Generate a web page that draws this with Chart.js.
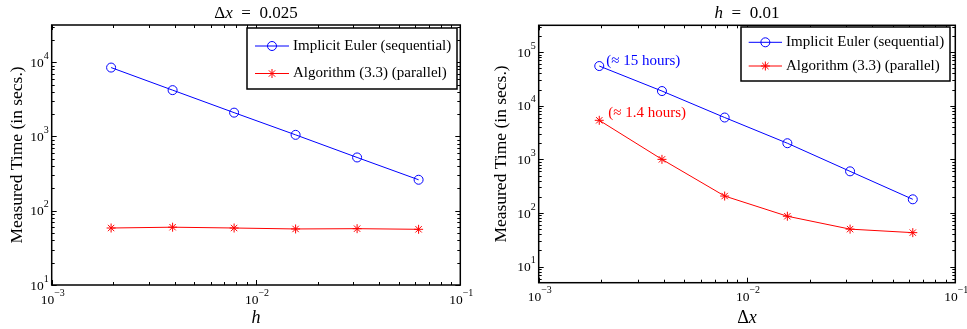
<!DOCTYPE html>
<html><head><meta charset="utf-8">
<script src="https://cdn.jsdelivr.net/npm/chart.js@4"></script>
<style>
html,body{margin:0;padding:0;background:#fff;width:967px;height:329px;overflow:hidden}
canvas{position:absolute;top:0}
</style></head><body>
<canvas id="c1" width="484" height="329" style="left:0"></canvas>
<canvas id="c2" width="483" height="329" style="left:484px"></canvas>
<script>
// ---- data ----
const stepSizesH = [0.001953125, 0.00390625, 0.0078125, 0.015625, 0.03125, 0.0625];
const leftImplicitEuler = [8450, 4200, 2090, 1050, 521, 261];
const leftAlgorithm = [58.5, 60, 58.5, 56.8, 57.3, 56.2];
const meshSizesDx = [0.001953125, 0.00390625, 0.0078125, 0.015625, 0.03125, 0.0625];
const rightImplicitEuler = [55000, 18800, 6030, 2000, 598, 180];
const rightAlgorithm = [5350, 1000, 207, 87, 50, 43];
const xMajorExponents = [-3, -2, -1];
const leftYMajorExponents = [1, 2, 3, 4];
const rightYMajorExponents = [1, 2, 3, 4, 5];
const legendLabels = ['Implicit Euler (sequential)', 'Algorithm (3.3) (parallel)'];
const annotationTexts = ['(\u2248 15 hours)', '(\u2248 1.4 hours)'];

const SERIF = '"Liberation Serif", "Times New Roman", serif';
const BLUE = '#0000ff', RED = '#ff0000';

function drawParts(ctx, parts, x, y, align) {
  let total = 0;
  parts.forEach(p => { ctx.font = p.font; p.w = ctx.measureText(p.t).width; total += p.w; });
  let cx = align === 'center' ? x - total / 2 : (align === 'right' ? x - total : x);
  ctx.textBaseline = 'middle'; ctx.textAlign = 'left';
  parts.forEach(p => { ctx.font = p.font; ctx.fillText(p.t, cx, y + (p.dy || 0)); cx += p.w; });
}
function powParts(e) {
  return [{t: '10', font: '13.5px ' + SERIF}, {t: (e < 0 ? '\u2212' : '') + Math.abs(e), font: '10px ' + SERIF, dy: -7}];
}

const axesPlugin = {
  id: 'matlabAxes',
  afterDraw(chart) {
    const o = chart.options.plugins.matlabAxes;
    const ctx = chart.ctx, a = chart.chartArea, xs = chart.scales.x, ys = chart.scales.y;
    ctx.save();
    ctx.strokeStyle = '#000'; ctx.lineWidth = 1;
    const tickSet = (scale) => {
      const out = [];
      const lo = Math.floor(Math.log10(scale.min)), hi = Math.ceil(Math.log10(scale.max));
      for (let d = lo; d <= hi; d++) for (let m = 1; m <= 9; m++) {
        const v = m * Math.pow(10, d);
        if (v >= scale.min * 0.9999 && v <= scale.max * 1.0001) out.push({v, major: m === 1});
      }
      return out;
    };
    ctx.beginPath();
    tickSet(xs).forEach(t => {
      const px = Math.round(xs.getPixelForValue(t.v)) + 0.5, L = t.major ? 5 : 3;
      ctx.moveTo(px, a.bottom); ctx.lineTo(px, a.bottom - L);
      ctx.moveTo(px, a.top); ctx.lineTo(px, a.top + L);
    });
    tickSet(ys).forEach(t => {
      const py = Math.round(ys.getPixelForValue(t.v)) + 0.5, L = t.major ? 5 : 3;
      ctx.moveTo(a.left, py); ctx.lineTo(a.left + L, py);
      ctx.moveTo(a.right, py); ctx.lineTo(a.right - L, py);
    });
    ctx.stroke();
    ctx.lineWidth = 1.5;
    ctx.strokeRect(a.left, a.top, a.right - a.left, a.bottom - a.top);
    ctx.fillStyle = '#000';
    o.xExps.forEach(e => {
      const px = xs.getPixelForValue(Math.pow(10, e));
      drawParts(ctx, powParts(e), px + 1, a.bottom + 15, 'center');
    });
    o.yExps.forEach(e => {
      const py = ys.getPixelForValue(Math.pow(10, e));
      drawParts(ctx, powParts(e), a.left - 3, py + 1, 'right');
    });
    drawParts(ctx, o.title, (a.left + a.right) / 2, 14, 'center');
    drawParts(ctx, o.xLabel, (a.left + a.right) / 2, 318, 'center');
    ctx.save();
    ctx.translate(17, (a.top + a.bottom) / 2);
    ctx.rotate(-Math.PI / 2);
    drawParts(ctx, [{t: 'Measured Time (in secs.)', font: '17.5px ' + SERIF}], 0, 0, 'center');
    ctx.restore();
    const L = o.legend;
    ctx.fillStyle = '#fff'; ctx.strokeStyle = '#000'; ctx.lineWidth = 1.5;
    ctx.fillRect(L.x0, L.y0, L.x1 - L.x0, L.y1 - L.y0);
    ctx.strokeRect(L.x0, L.y0, L.x1 - L.x0, L.y1 - L.y0);
    chart.data.datasets.forEach((ds, i) => {
      const y = L.rows[i];
      ctx.strokeStyle = ds.borderColor; ctx.lineWidth = 1;
      ctx.beginPath(); ctx.moveTo(L.lx0, y); ctx.lineTo(L.lx1, y); ctx.stroke();
      ctx.fillStyle = 'rgba(0,0,0,0)';
      Chart.helpers.drawPoint(ctx, {pointStyle: ds.pointStyle, radius: ds.pointRadius, rotation: 0, borderWidth: 1}, (L.lx0 + L.lx1) / 2, y);
      ctx.fillStyle = '#000';
      drawParts(ctx, [{t: ds.label, font: '15px ' + SERIF}], L.tx, y, 'left');
    });
    if (o.annotate) {
      chart.data.datasets.forEach((ds, i) => {
        const p = ds.data[0];
        const px = xs.getPixelForValue(p.x), py = ys.getPixelForValue(p.y);
        ctx.fillStyle = ds.borderColor;
        drawParts(ctx, [{t: annotationTexts[i], font: '15px ' + SERIF}], px + o.annotate[i].dx, py + o.annotate[i].dy, 'left');
      });
    }
    ctx.restore();
  }
};

function makeChart(id, xVals, s1, s2, yMin, yMax, padding, axOpts) {
  const mk = (ys) => xVals.map((x, i) => ({x: x, y: ys[i]}));
  return new Chart(document.getElementById(id), {
    type: 'line',
    data: {datasets: [
      {label: legendLabels[0], data: mk(s1), borderColor: BLUE, backgroundColor: 'rgba(0,0,0,0)', borderWidth: 1,
       pointStyle: 'circle', pointRadius: 4.5, pointBorderWidth: 1, pointBackgroundColor: 'rgba(0,0,0,0)', pointBorderColor: BLUE, tension: 0},
      {label: legendLabels[1], data: mk(s2), borderColor: RED, backgroundColor: 'rgba(0,0,0,0)', borderWidth: 1,
       pointStyle: 'star', pointRadius: 4.5, pointBorderWidth: 1, pointBackgroundColor: 'rgba(0,0,0,0)', pointBorderColor: RED, tension: 0}
    ]},
    options: {
      responsive: false, animation: false, events: [],
      layout: {padding: padding},
      scales: {
        x: {type: 'logarithmic', min: 0.001, max: 0.1, display: false},
        y: {type: 'logarithmic', min: yMin, max: yMax, display: false}
      },
      plugins: {legend: {display: false}, tooltip: {enabled: false}, title: {display: false}, matlabAxes: axOpts}
    },
    plugins: [axesPlugin]
  });
}

makeChart('c1', stepSizesH, leftImplicitEuler, leftAlgorithm, 10, 31623,
  {left: 51.7, right: 23.7, top: 25, bottom: 44},
  {
    xExps: xMajorExponents, yExps: leftYMajorExponents,
    title: [{t: '\u0394', font: '17px ' + SERIF}, {t: 'x', font: 'italic 17px ' + SERIF}, {t: '\u2002=\u20020.025', font: '17px ' + SERIF}],
    xLabel: [{t: 'h', font: 'italic 18px ' + SERIF}],
    legend: {x0: 247, x1: 457, y0: 28, y1: 89, rows: [46, 73.5], lx0: 255, lx1: 289, tx: 293},
    annotate: null
  });

makeChart('c2', meshSizesDx, rightImplicitEuler, rightAlgorithm, 5.0119, 316228,
  {left: 54.7, right: 11.7, top: 25.3, bottom: 46.3},
  {
    xExps: xMajorExponents, yExps: rightYMajorExponents,
    title: [{t: 'h', font: 'italic 17px ' + SERIF}, {t: '\u2002=\u20020.01', font: '17px ' + SERIF}],
    xLabel: [{t: '\u0394', font: '18px ' + SERIF}, {t: 'x', font: 'italic 18px ' + SERIF}],
    legend: {x0: 257, x1: 466, y0: 27, y1: 81, rows: [42.3, 66], lx0: 264.7, lx1: 298, tx: 302},
    annotate: [{dx: 7, dy: -5}, {dx: 9, dy: -7}]
  });
</script>
</body></html>
